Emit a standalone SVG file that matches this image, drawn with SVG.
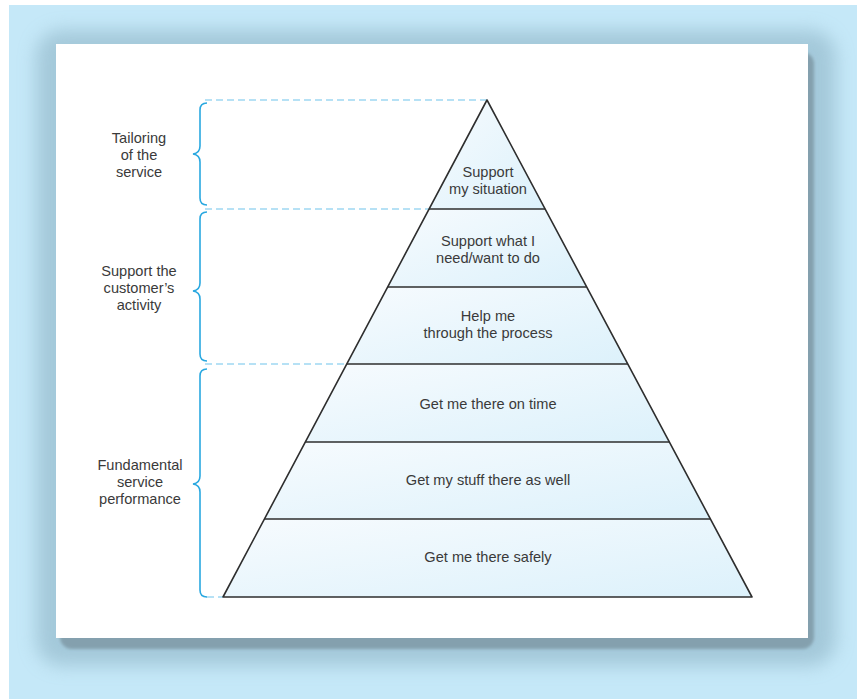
<svg xmlns="http://www.w3.org/2000/svg" width="857" height="699" viewBox="0 0 857 699">
  <defs>
    <filter id="glow" x="-20%" y="-20%" width="140%" height="140%">
      <feGaussianBlur stdDeviation="9"/>
    </filter>
    <filter id="soft" x="-10%" y="-10%" width="120%" height="120%">
      <feGaussianBlur stdDeviation="1.5"/>
    </filter>
    <linearGradient id="pyr" x1="0" y1="0" x2="1" y2="1">
      <stop offset="0" stop-color="#f7fbfe"/>
      <stop offset="1" stop-color="#dcf1fb"/>
    </linearGradient>
  </defs>
  <style>
    .lbl { font-family: "Liberation Sans", Arial, sans-serif; font-size: 14.6px; fill: #3a3a3a; text-anchor: middle; }
    .tier { fill: url(#pyr); stroke: none; }
    .edge { stroke: #2e2e2e; stroke-width: 1.6; fill: none; stroke-linejoin: round; }
    .div { stroke: #2e2e2e; stroke-width: 1.6; }
    .dash { stroke: #9ed8f2; stroke-width: 1.4; stroke-dasharray: 7 4; fill: none; }
    .brace { stroke: #2aa8e0; stroke-width: 1.6; fill: none; }
  </style>

  <rect x="0" y="0" width="857" height="699" fill="#ffffff"/>
  <rect x="9" y="5" width="848" height="694" fill="#c5e8f8"/>

  <!-- card shadow -->
  <rect x="36" y="30" width="800" height="636" rx="26" fill="#96bccd" opacity="0.7" filter="url(#glow)"/>
  <rect x="60" y="52" width="754" height="597" rx="12" fill="#84a0ae" filter="url(#soft)"/>
  <rect x="56" y="44" width="752" height="594" fill="#ffffff"/>

  <!-- connectors: dashed guides and braces -->
  <g id="connectors">
    <line class="dash" x1="205" y1="100" x2="487" y2="100"/>
    <line class="dash" x1="205" y1="209" x2="429" y2="209"/>
    <line class="dash" x1="205" y1="364" x2="347" y2="364"/>
    <line class="dash" x1="207" y1="597" x2="223" y2="597"/>
    <path class="brace" d="M207,103 Q200,103 200,110 L200,146 Q200,153 193,154 Q200,155 200,162 L200,198 Q200,205 207,205"/>
    <path class="brace" d="M207,212 Q200,212 200,219 L200,283 Q200,290 193,291 Q200,292 200,299 L200,354 Q200,361 207,361"/>
    <path class="brace" d="M207,369 Q200,369 200,376 L200,476 Q200,483 193,484 Q200,485 200,492 L200,590 Q200,597 207,597"/>
  </g>

  <!-- pyramid tiers -->
  <g id="tier1">
    <polygon class="tier" points="487,100 429.1,209 545.1,209"/>
    <text class="lbl" x="488" y="177">Support</text>
    <text class="lbl" x="488" y="194">my situation</text>
  </g>
  <g id="tier2">
    <polygon class="tier" points="429.1,209 545.1,209 586.7,287 387.7,287"/>
    <text class="lbl" x="488" y="246">Support what I</text>
    <text class="lbl" x="488" y="263">need/want to do</text>
  </g>
  <g id="tier3">
    <polygon class="tier" points="387.7,287 586.7,287 627.8,364 346.8,364"/>
    <text class="lbl" x="488" y="321">Help me</text>
    <text class="lbl" x="488" y="338">through the process</text>
  </g>
  <g id="tier4">
    <polygon class="tier" points="346.8,364 627.8,364 669.3,442 305.3,442"/>
    <text class="lbl" x="488" y="409">Get me there on time</text>
  </g>
  <g id="tier5">
    <polygon class="tier" points="305.3,442 669.3,442 710.4,519 264.4,519"/>
    <text class="lbl" x="488" y="485">Get my stuff there as well</text>
  </g>
  <g id="tier6">
    <polygon class="tier" points="264.4,519 710.4,519 752,597 223,597"/>
    <text class="lbl" x="488" y="562">Get me there safely</text>
  </g>

  <g id="pyramid-outline">
    <polygon class="edge" points="487,100 752,597 223,597"/>
    <line class="div" x1="429.1" y1="209" x2="545.1" y2="209"/>
    <line class="div" x1="387.7" y1="287" x2="586.7" y2="287"/>
    <line class="div" x1="346.8" y1="364" x2="627.8" y2="364"/>
    <line class="div" x1="305.3" y1="442" x2="669.3" y2="442"/>
    <line class="div" x1="264.4" y1="519" x2="710.4" y2="519"/>
  </g>

  <!-- side labels -->
  <g id="label-tailoring">
    <text class="lbl" x="139" y="143">Tailoring</text>
    <text class="lbl" x="139" y="160">of the</text>
    <text class="lbl" x="139" y="177">service</text>
  </g>
  <g id="label-support">
    <text class="lbl" x="139" y="276">Support the</text>
    <text class="lbl" x="139" y="293">customer’s</text>
    <text class="lbl" x="139" y="310">activity</text>
  </g>
  <g id="label-fundamental">
    <text class="lbl" x="140" y="470">Fundamental</text>
    <text class="lbl" x="140" y="487">service</text>
    <text class="lbl" x="140" y="504">performance</text>
  </g>
</svg>
